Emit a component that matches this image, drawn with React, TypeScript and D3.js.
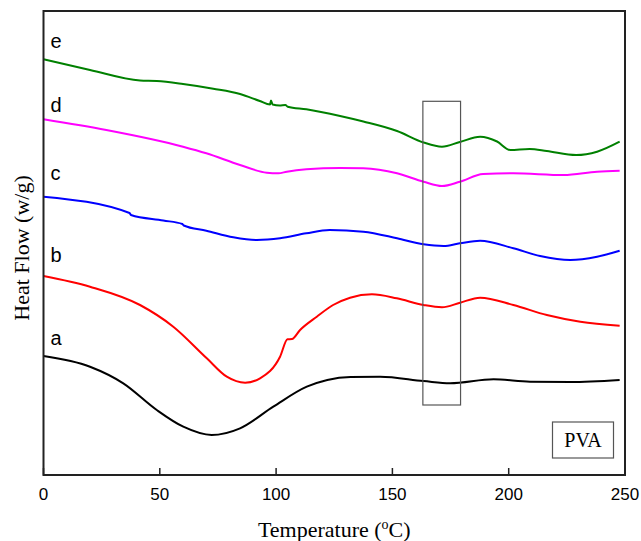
import React from "react";
import * as d3 from "d3";

// DSC curves of PVA samples (heat flow in arbitrary offset units, w/g)
const tempA = [0, 20, 34.3, 48.7, 60.1, 72.3, 84.5, 98.8, 113.2, 122, 132, 144.7, 163.4, 174.8, 193.5, 209.2, 226.5, 247.7];
const flowA = [11.9, 10.83, 9.17, 6.5, 4.83, 4.0, 4.67, 6.83, 8.83, 9.5, 9.8, 9.83, 9.4, 9.17, 9.57, 9.33, 9.3, 9.5];

const tempB = [0, 20, 41.5, 55.8, 70.2, 78.8, 86.7, 93.1, 101.7, 104.9, 106.8, 110.3, 117.5, 124.5, 131.8, 141.2, 151.9, 163.4, 171.3, 179.1, 187.7, 202, 216.4, 230.8, 247.7];
const flowB = [19.9, 18.83, 17.0, 14.83, 11.67, 9.83, 9.23, 9.67, 11.83, 13.57, 13.6, 14.5, 15.83, 17.0, 17.73, 18.07, 17.67, 17.0, 16.77, 17.23, 17.73, 17.0, 16.0, 15.33, 14.93];

const tempC = [0, 37, 37.6, 51.5, 59.7, 60.3, 70, 81.6, 91.7, 101.7, 113, 123, 137.5, 152, 163.4, 172, 179, 187.7, 202, 213.5, 226.5, 238, 247.7];
const flowC = [27.83, 26.2, 26.0, 25.45, 25.1, 24.95, 24.43, 23.77, 23.5, 23.67, 24.17, 24.5, 24.33, 23.67, 23.07, 22.9, 23.17, 23.43, 22.67, 21.9, 21.5, 21.83, 22.43];

const tempD = [0, 27, 60, 70, 84.5, 96, 101, 104.6, 113, 127.5, 137.5, 152, 163.4, 171.3, 179, 189, 202, 223.6, 238, 247.7];
const flowD = [35.57, 34.5, 32.83, 32.17, 31.0, 30.23, 30.17, 30.33, 30.57, 30.7, 30.67, 30.17, 29.33, 28.9, 29.33, 30.1, 30.17, 30.0, 30.33, 30.43];

const tempE = [0, 20, 41.5, 48.7, 60, 73, 84.5, 93, 97.4, 97.8, 98.5, 101.5, 104, 105, 113, 127.5, 137.5, 152, 163.4, 171.3, 179, 187.7, 195, 200.6, 209, 216.4, 229, 238, 247.7];
const flowE = [41.57, 40.5, 39.45, 39.4, 39.1, 38.63, 38.1, 37.4, 37.05, 37.45, 37.05, 36.95, 37.0, 36.83, 36.57, 35.9, 35.35, 34.4, 33.25, 32.83, 33.3, 33.83, 33.35, 32.5, 32.6, 32.4, 32.0, 32.33, 33.33];

const seriesNames = ["a", "b", "c", "d", "e"];
const seriesColors = ["#000000", "#ff0000", "#0000ff", "#ff00ff", "#008000"];
const seriesTemps = [tempA, tempB, tempC, tempD, tempE];
const seriesFlows = [flowA, flowB, flowC, flowD, flowE];
// label position: flow value where the letter sits
const labelFlows = [13.0, 21.3, 29.5, 36.3, 42.7];

const xTicks = [0, 50, 100, 150, 200, 250];
// highlighted region around the 170 °C transition
const boxTemps = [163.1, 179.3];
const boxFlows = [7.0, 37.37];

export default function App() {
    const width = 641;
    const height = 541;
    const margin = { top: 11, right: 16, bottom: 66, left: 43.5 };

    const x = d3.scaleLinear().domain([0, 250]).range([margin.left, width - margin.right]);
    const y = d3.scaleLinear().domain([0, 46.4]).range([height - margin.bottom, margin.top]);

    const line = d3
        .line<[number, number]>()
        .x((d) => x(d[0]))
        .y((d) => y(d[1]))
        .curve(d3.curveMonotoneX);

    const x0 = margin.left;
    const x1 = width - margin.right;
    const y0 = height - margin.bottom;
    const y1 = margin.top;

    return (
        <svg
            width={width}
            height={height}
            style={{ position: "fixed", left: 0, top: 0, background: "#fff" }}
        >
            {/* curves */}
            {seriesNames.map((name, i) => {
                const pts = seriesTemps[i].map((t, j) => [t, seriesFlows[i][j]] as [number, number]);
                return (
                    <path
                        key={name}
                        d={line(pts) || ""}
                        fill="none"
                        stroke={seriesColors[i]}
                        strokeWidth={2}
                        strokeLinejoin="round"
                    />
                );
            })}

            {/* series letters */}
            {seriesNames.map((name, i) => (
                <text
                    key={"l" + name}
                    x={x(3)}
                    y={y(labelFlows[i])}
                    fontFamily="Liberation Sans, Arial, sans-serif"
                    fontSize={20}
                    fill="#000"
                >
                    {name}
                </text>
            ))}

            {/* highlight box */}
            <rect
                x={x(boxTemps[0])}
                y={y(boxFlows[1])}
                width={x(boxTemps[1]) - x(boxTemps[0])}
                height={y(boxFlows[0]) - y(boxFlows[1])}
                fill="none"
                stroke="#555"
                strokeWidth={1.2}
            />

            {/* PVA tag */}
            <rect x={552.5} y={422} width={61} height={36} fill="#fff" stroke="#555" strokeWidth={1.2} />
            <text
                x={583}
                y={447}
                textAnchor="middle"
                fontFamily="Liberation Serif, Times New Roman, serif"
                fontSize={20}
            >
                PVA
            </text>

            {/* frame */}
            <rect x={x0} y={y1} width={x1 - x0} height={y0 - y1} fill="none" stroke="#222" strokeWidth={2} />

            {/* x ticks */}
            {xTicks.map((t) => (
                <g key={t}>
                    <line x1={x(t)} x2={x(t)} y1={y0} y2={y0 - 7} stroke="#222" strokeWidth={1.5} />
                    <text
                        x={x(t)}
                        y={500}
                        textAnchor="middle"
                        fontFamily="Liberation Sans, Arial, sans-serif"
                        fontSize={17}
                    >
                        {t}
                    </text>
                </g>
            ))}

            {/* axis titles */}
            <text
                x={(x0 + x1) / 2}
                y={537}
                textAnchor="middle"
                fontFamily="Liberation Serif, Times New Roman, serif"
                fontSize={22}
            >
                Temperature (<tspan fontSize={14} dy={-8}>o</tspan>
                <tspan dy={8}>C)</tspan>
            </text>
            <text
                transform={`translate(29,${(y0 + y1) / 2 + 5}) rotate(-90)`}
                textAnchor="middle"
                fontFamily="Liberation Serif, Times New Roman, serif"
                fontSize={22}
            >
                Heat Flow (w/g)
            </text>
        </svg>
    );
}
